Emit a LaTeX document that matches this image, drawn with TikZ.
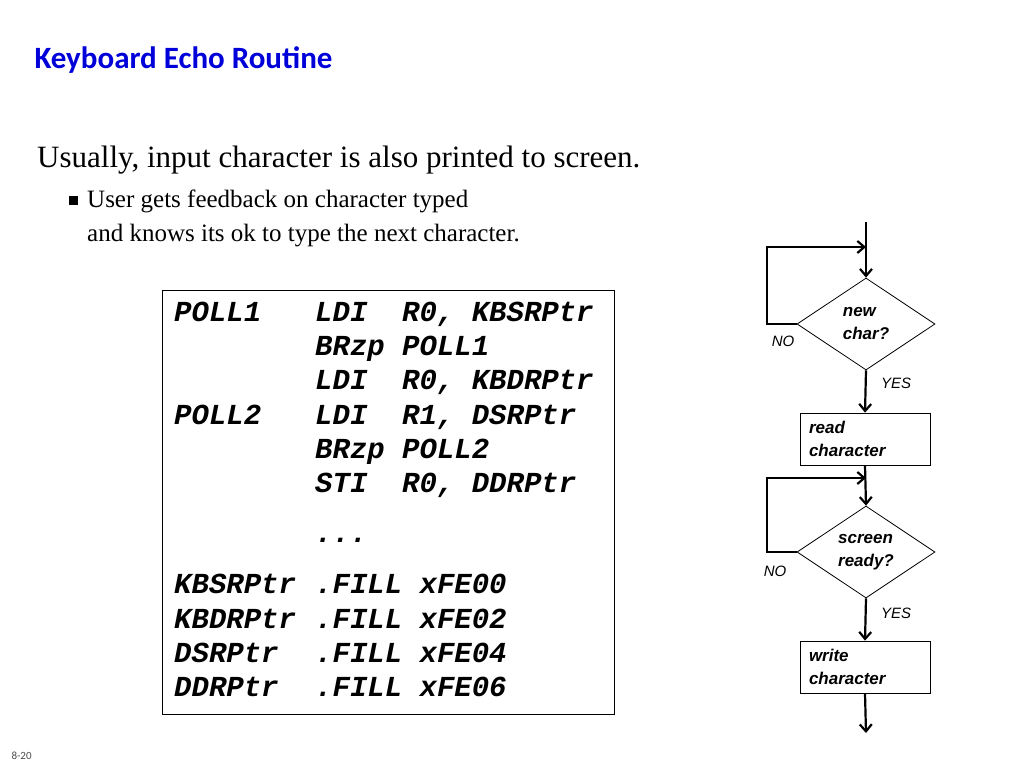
\documentclass[tikz,border=0pt]{standalone}
\usepackage{fontspec}
\setmainfont{Liberation Serif}
\newfontfamily\calfnt{Carlito}
\newfontfamily\arifnt{Liberation Sans}
\newfontfamily\monofnt{Liberation Mono}
\usetikzlibrary{shapes.geometric,arrows.meta}
\begin{document}
\begin{tikzpicture}[x=1pt,y=-1pt,
 code/.style={anchor=base west,inner sep=0,font=\monofnt\bfseries\itshape\fontsize{29}{29}\selectfont},
 fl/.style={line width=2.2pt,-{Straight Barb[length=7pt,width=12pt]}},
 box/.style={draw,line width=0.8pt,minimum width=130pt,minimum height=52pt,align=left,text width=112pt,font=\arifnt\bfseries\itshape\fontsize{17}{23}\selectfont},
 dia/.style={draw,diamond,line width=0.8pt,minimum width=138pt,minimum height=92pt,inner sep=0,aspect=1.5,align=left,font=\arifnt\bfseries\itshape\fontsize{17}{23}\selectfont},
 lab/.style={font=\arifnt\itshape\fontsize{15}{15}\selectfont,inner sep=0}]
\useasboundingbox (0,0) rectangle (1024,768);
\node[anchor=west,text=blue!85!black,font=\calfnt\bfseries\fontsize{31}{31}\selectfont] (title) at (31,60) {Keyboard Echo Routine};
\node[anchor=base west,inner sep=0,font=\fontsize{31}{31}\selectfont] (sub) at (37,167) {Usually, input character is also printed to screen.};
\node[anchor=base west,inner sep=0] (bul) at (69,205) {\rule{9pt}{9pt}};
\node[anchor=base west,inner sep=0,font=\fontsize{25}{34}\selectfont] (b1) at (87,207) {User gets feedback on character typed};
\node[anchor=base west,inner sep=0,font=\fontsize{25}{34}\selectfont] (b2) at (87,241) {and knows its ok to type the next character.};
\node[draw,line width=0.8pt,minimum width=452pt,minimum height=424pt,inner sep=0] (cbox) at (388,502) {};
\node[code] (c1a) at (174,321) {POLL1};
\node[code] (c1b) at (315,321) {LDI\ \ R0, KBSRPtr};
\node[code] (c2) at (315,355) {BRzp POLL1};
\node[code] (c3) at (315,389) {LDI\ \ R0, KBDRPtr};
\node[code] (c4a) at (174,424) {POLL2};
\node[code] (c4b) at (315,424) {LDI\ \ R1, DSRPtr};
\node[code] (c5) at (315,458) {BRzp POLL2};
\node[code] (c6) at (315,492) {STI\ \ R0, DDRPtr};
\node[code] (c7) at (315,542) {...};
\node[code] (c8a) at (174,593) {KBSRPtr};
\node[code] (c8b) at (315,593) {.FILL xFE00};
\node[code] (c9a) at (174,628) {KBDRPtr};
\node[code] (c9b) at (315,628) {.FILL xFE02};
\node[code] (c10a) at (174,662) {DSRPtr};
\node[code] (c10b) at (315,662) {.FILL xFE04};
\node[code] (c11a) at (174,696) {DDRPtr};
\node[code] (c11b) at (315,696) {.FILL xFE06};
\node[dia] (d1) at (866,324) {new\\char?};
\node[box] (r) at (865,439) {read\\character};
\node[dia] (d2) at (866,552) {screen\\ready?};
\node[box] (w) at (865,667) {write\\character};
\coordinate (s) at (866,222);
\coordinate (e) at (866,733);
\coordinate (l1) at (767,324);
\coordinate (l1t) at (767,247);
\coordinate (m1) at (866,247);
\coordinate (l2) at (767,552);
\coordinate (l2t) at (767,478);
\coordinate (m2) at (866,478);
\draw[fl] (s) -- (d1.north);
\draw[fl] (d1.west) -- (l1) -- (l1t) -- (m1);
\draw[fl] (d1.south) -- (r.north);
\draw[fl] (r.south) -- (d2.north);
\draw[fl] (d2.west) -- (l2) -- (l2t) -- (m2);
\draw[fl] (d2.south) -- (w.north);
\draw[fl] (w.south) -- (e);
\node[lab] (no1) at (783,341) {NO};
\node[lab] (yes1) at (896,383) {YES};
\node[lab] (no2) at (775,571) {NO};
\node[lab] (yes2) at (896,613) {YES};
\node[anchor=west,font=\calfnt\fontsize{11}{11}\selectfont,text=black!70] (pg) at (8,756) {8-20};
\end{tikzpicture}
\end{document}
